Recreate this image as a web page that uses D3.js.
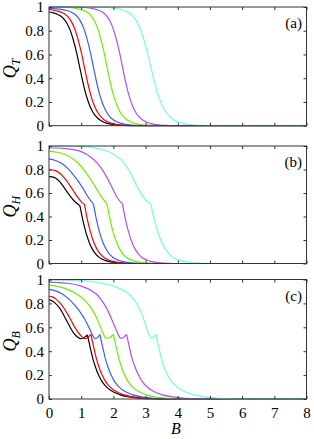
<!DOCTYPE html>
<html>
<head>
<meta charset="utf-8">
<script src="https://cdn.jsdelivr.net/npm/d3@7"></script>
<style>
  body { margin: 0; background: #fff; }
  svg { display: block; }
  .tick text { font-family: "Liberation Serif", "DejaVu Serif", serif; font-size: 15px; fill: #000; }
  .tick line { stroke: #333; }
</style>
</head>
<body>
<div id="chart"></div>
<script>
const svgWidth = 314;
const svgHeight = 439;

const xTicks = [0, 1, 2, 3, 4, 5, 6, 7, 8];
const yTicks = [0, 0.2, 0.4, 0.6, 0.8, 1];
const colors = ["#000000", "#ff0000", "#3a5cff", "#6cf000", "#b24cff", "#72ffd8"];
const panelLabels = ["(a)", "(b)", "(c)"];
const ySubs = ["T", "H", "B"];

// panel (a): Q_T vs B, one [B, Q] list per curve
const qtBlack = [[0,.958],[.16,.949],[.26,.939],[.36,.924],[.46,.9],[.56,.861],[.66,.803],[.76,.718],[.86,.611],[.96,.485],[1.06,.359],[1.16,.252],[1.26,.173],[1.36,.116],[1.46,.078],[1.56,.052],[1.66,.036],[1.76,.024],[1.96,.011],[2.16,.005],[2.36,.002],[2.56,0],[8,0]];
const qtRed = [[0,.979],[.1,.975],[.3,.963],[.4,.953],[.5,.939],[.6,.914],[.7,.875],[.8,.816],[.9,.729],[1.0,.621],[1.1,.493],[1.2,.364],[1.3,.256],[1.4,.175],[1.5,.118],[1.6,.079],[1.7,.053],[1.8,.036],[1.9,.025],[2.1,.011],[2.3,.005],[2.5,.002],[2.7,0],[8,0]];
const qtBlue = [[0,.988],[.38,.98],[.58,.968],[.68,.958],[.78,.943],[.88,.919],[.98,.879],[1.08,.82],[1.18,.733],[1.28,.624],[1.38,.495],[1.48,.366],[1.58,.257],[1.68,.176],[1.78,.119],[1.88,.079],[1.98,.053],[2.08,.037],[2.18,.025],[2.38,.011],[2.58,.005],[2.78,.002],[2.98,0],[8,0]];
const qtGreen = [[0,.998],[.4,.998],[.6,.996],[.8,.99],[1.0,.978],[1.1,.968],[1.2,.953],[1.3,.928],[1.4,.888],[1.5,.828],[1.6,.74],[1.7,.63],[1.8,.5],[1.9,.37],[2.0,.26],[2.1,.178],[2.2,.12],[2.3,.08],[2.4,.054],[2.5,.037],[2.6,.025],[2.8,.011],[3.0,.005],[3.2,.002],[3.4,0],[8,0]];
const qtPurple = [[0,.999],[.88,.998],[1.08,.996],[1.28,.99],[1.48,.978],[1.58,.968],[1.68,.953],[1.78,.928],[1.88,.888],[1.98,.828],[2.08,.74],[2.18,.63],[2.28,.5],[2.38,.37],[2.48,.26],[2.58,.178],[2.68,.12],[2.78,.08],[2.88,.054],[2.98,.037],[3.08,.025],[3.28,.011],[3.48,.005],[3.68,.002],[3.88,0],[8,0]];
const qtCyan = [[0,1],[1.55,.998],[1.78,.996],[2.01,.99],[2.24,.978],[2.355,.968],[2.47,.953],[2.585,.928],[2.7,.888],[2.815,.828],[2.93,.74],[3.045,.63],[3.16,.5],[3.275,.37],[3.39,.26],[3.505,.178],[3.62,.12],[3.735,.08],[3.85,.054],[3.965,.037],[4.08,.025],[4.31,.011],[4.54,.005],[4.77,.002],[5.0,0],[8,0]];

// panel (b): Q_H vs B
const qhBlack = [[0,.74],[.1,.738],[.2,.728],[.3,.705],[.4,.673],[.5,.635],[.6,.595],[.7,.558],[.8,.528],[.9,.505],[.96,.492],[1.06,.359],[1.16,.252],[1.26,.173],[1.36,.116],[1.46,.078],[1.56,.052],[1.66,.036],[1.76,.024],[1.96,.011],[2.16,.005],[2.36,.002],[2.56,0],[8,0]];
const qhRed = [[0,.8],[.2,.79],[.3,.775],[.4,.752],[.5,.72],[.6,.683],[.7,.643],[.8,.6],[.9,.56],[1.0,.527],[1.05,.514],[1.1,.505],[1.2,.364],[1.3,.256],[1.4,.175],[1.5,.118],[1.6,.079],[1.7,.053],[1.8,.036],[1.9,.025],[2.1,.011],[2.3,.005],[2.5,.002],[2.7,0],[8,0]];
const qhBlue = [[0,.89],[.2,.877],[.4,.852],[.6,.805],[.8,.74],[.9,.703],[1.0,.663],[1.1,.618],[1.2,.572],[1.3,.532],[1.38,.507],[1.48,.366],[1.58,.257],[1.68,.176],[1.78,.119],[1.88,.079],[1.98,.053],[2.08,.037],[2.18,.025],[2.38,.011],[2.58,.005],[2.78,.002],[2.98,0],[8,0]];
const qhGreen = [[0,.957],[.3,.945],[.6,.915],[.9,.855],[1.1,.79],[1.3,.713],[1.5,.625],[1.6,.58],[1.7,.542],[1.8,.51],[1.9,.37],[2.0,.26],[2.1,.178],[2.2,.12],[2.3,.08],[2.4,.054],[2.5,.037],[2.6,.025],[2.8,.011],[3.0,.005],[3.2,.002],[3.4,0],[8,0]];
const qhPurple = [[0,.985],[.5,.978],[1.0,.952],[1.3,.905],[1.5,.855],[1.7,.78],[1.9,.68],[2.0,.625],[2.1,.57],[2.2,.53],[2.28,.51],[2.38,.37],[2.48,.26],[2.58,.178],[2.68,.12],[2.78,.08],[2.88,.054],[2.98,.037],[3.08,.025],[3.28,.011],[3.48,.005],[3.68,.002],[3.88,0],[8,0]];
const qhCyan = [[0,1],[1.0,.995],[1.5,.98],[2.0,.93],[2.3,.865],[2.5,.785],[2.7,.675],[2.9,.578],[3.05,.527],[3.16,.51],[3.275,.37],[3.39,.26],[3.505,.178],[3.62,.12],[3.735,.08],[3.85,.054],[3.965,.037],[4.08,.025],[4.31,.011],[4.54,.005],[4.77,.002],[5.0,0],[8,0]];
const kinksH = [0.96, 1.1, 1.38, 1.8, 2.28, 3.16];

// panel (c): Q_B vs B
const qbBlack = [[0,.83],[.1,.82],[.2,.8],[.3,.77],[.4,.73],[.5,.68],[.6,.63],[.7,.58],[.8,.54],[.9,.515],[.98,.505],[1.05,.508],[1.12,.52],[1.19,.536],[1.24,.48],[1.29,.42],[1.36,.34],[1.44,.27],[1.54,.2],[1.64,.15],[1.79,.1],[1.99,.06],[2.19,.037],[2.49,.018],[2.79,.008],[3.19,.002],[3.59,0],[8,0]];
const qbRed = [[0,.86],[.1,.855],[.2,.84],[.3,.815],[.4,.785],[.5,.745],[.6,.7],[.7,.65],[.8,.6],[.9,.56],[1.0,.527],[1.12,.505],[1.2,.512],[1.3,.542],[1.35,.48],[1.4,.42],[1.47,.34],[1.55,.27],[1.65,.2],[1.75,.15],[1.9,.1],[2.1,.06],[2.3,.037],[2.6,.018],[2.9,.008],[3.3,.002],[3.7,0],[8,0]];
const qbBlue = [[0,.917],[.2,.905],[.4,.88],[.6,.84],[.8,.785],[1.0,.715],[1.1,.672],[1.2,.622],[1.3,.565],[1.37,.525],[1.43,.506],[1.5,.512],[1.58,.54],[1.63,.48],[1.68,.42],[1.75,.34],[1.83,.27],[1.93,.2],[2.03,.15],[2.18,.1],[2.38,.06],[2.58,.037],[2.88,.018],[3.18,.008],[3.58,.002],[3.98,0],[8,0]];
const qbGreen = [[0,.953],[.3,.94],[.6,.915],[.9,.87],[1.1,.83],[1.3,.765],[1.45,.695],[1.55,.635],[1.65,.568],[1.72,.527],[1.78,.507],[1.88,.513],[2.0,.54],[2.05,.48],[2.1,.42],[2.17,.34],[2.25,.27],[2.35,.2],[2.45,.15],[2.6,.1],[2.8,.06],[3.0,.037],[3.3,.018],[3.6,.008],[4.0,.002],[4.4,0],[8,0]];
const qbPurple = [[0,.978],[.5,.97],[1.0,.945],[1.3,.91],[1.5,.87],[1.7,.8],[1.85,.727],[2.0,.633],[2.1,.572],[2.17,.528],[2.22,.508],[2.3,.513],[2.41,.54],[2.46,.48],[2.51,.42],[2.58,.34],[2.67,.27],[2.78,.2],[2.89,.15],[3.05,.1],[3.27,.06],[3.5,.037],[3.83,.018],[4.15,.008],[4.6,.002],[5.0,0],[8,0]];
const qbCyan = [[0,.995],[1.0,.99],[1.5,.975],[2.0,.945],[2.3,.91],[2.5,.875],[2.7,.81],[2.85,.73],[2.95,.66],[3.05,.58],[3.12,.527],[3.17,.508],[3.24,.515],[3.32,.54],[3.37,.48],[3.42,.42],[3.49,.34],[3.57,.27],[3.68,.2],[3.8,.15],[3.98,.1],[4.22,.06],[4.47,.037],[4.85,.018],[5.2,.008],[5.7,.002],[6.2,0],[8,0]];
const kinksB = [1.19, 1.3, 1.58, 2.0, 2.41, 3.32];

const panels = [
  { top: 7, bottom: 125.7, series: [qtBlack, qtRed, qtBlue, qtGreen, qtPurple, qtCyan], kinks: null },
  { top: 146, bottom: 263.5, series: [qhBlack, qhRed, qhBlue, qhGreen, qhPurple, qhCyan], kinks: kinksH },
  { top: 279.5, bottom: 399, series: [qbBlack, qbRed, qbBlue, qbGreen, qbPurple, qbCyan], kinks: kinksB }
];

const svg = d3.select("#chart").append("svg")
  .attr("width", svgWidth)
  .attr("height", svgHeight);

const x = d3.scaleLinear().domain([0, 8]).range([49, 306.5]);

panels.forEach((p, i) => {
  let y = d3.scaleLinear().domain([0, 1]).range([p.bottom, p.top]);
  let g = svg.append("g");

  let clipId = "clip" + i;
  svg.append("clipPath").attr("id", clipId)
    .append("rect")
    .attr("x", x(0)).attr("y", y(1) - 1)
    .attr("width", x(8) - x(0)).attr("height", y(0) - y(1) + 2);

  let line = d3.line()
    .x(d => x(d[0]))
    .y(d => y(d[1]))
    .curve(d3.curveMonotoneX);

  let lines = g.append("g").attr("clip-path", "url(#" + clipId + ")");
  p.series.forEach((s, j) => {
    // split at the kink so the corner stays sharp
    let parts = [s];
    if (p.kinks) {
      let k = p.kinks[j];
      parts = [s.filter(d => d[0] <= k), s.filter(d => d[0] >= k)];
    }
    parts.forEach(part => {
      lines.append("path")
        .datum(part)
        .attr("fill", "none")
        .attr("stroke", colors[j])
        .attr("stroke-width", 1.2)
        .attr("stroke-linejoin", "round")
        .attr("d", line);
    });
  });

  // axes, ticks pointing inward on all sides
  let left = g.append("g")
    .attr("transform", "translate(" + x(0) + ",0)")
    .call(d3.axisLeft(y).tickValues(yTicks).tickSize(-3).tickPadding(5).tickFormat(d3.format("~g")));
  let right = g.append("g")
    .attr("transform", "translate(" + x(8) + ",0)")
    .call(d3.axisRight(y).tickValues(yTicks).tickSize(-3).tickFormat(""));
  let top = g.append("g")
    .attr("transform", "translate(0," + y(1) + ")")
    .call(d3.axisTop(x).tickValues(xTicks).tickSize(-3).tickFormat(""));
  let bottom = g.append("g")
    .attr("transform", "translate(0," + y(0) + ")")
    .call(d3.axisBottom(x).tickValues(xTicks).tickSize(-3).tickPadding(8)
      .tickFormat(i == 2 ? d3.format("d") : ""));
  [left, right, top, bottom].forEach(a => a.select(".domain").remove());

  g.append("rect")
    .attr("x", x(0)).attr("y", y(1))
    .attr("width", x(8) - x(0)).attr("height", y(0) - y(1))
    .attr("fill", "none")
    .attr("stroke", "#333")
    .attr("stroke-width", 1);

  // y label Q with subscript
  let cy = (y(0) + y(1)) / 2;
  let lab = g.append("text")
    .attr("transform", "translate(16," + (cy + 2) + ") rotate(-90)")
    .attr("text-anchor", "middle")
    .style("font-family", "'Liberation Serif', serif")
    .style("font-style", "italic");
  lab.append("tspan").style("font-size", "18px").text("Q");
  lab.append("tspan").style("font-size", "12px").attr("dy", 4).text(ySubs[i]);

  g.append("text")
    .attr("x", 302)
    .attr("y", y(1) + 21)
    .attr("text-anchor", "end")
    .style("font-family", "'Liberation Serif', serif")
    .style("font-size", "15px")
    .text(panelLabels[i]);
});

svg.append("text")
  .attr("x", 176)
  .attr("y", 434)
  .attr("text-anchor", "middle")
  .style("font-family", "'Liberation Serif', serif")
  .style("font-style", "italic")
  .style("font-size", "16px")
  .text("B");
</script>
</body>
</html>
